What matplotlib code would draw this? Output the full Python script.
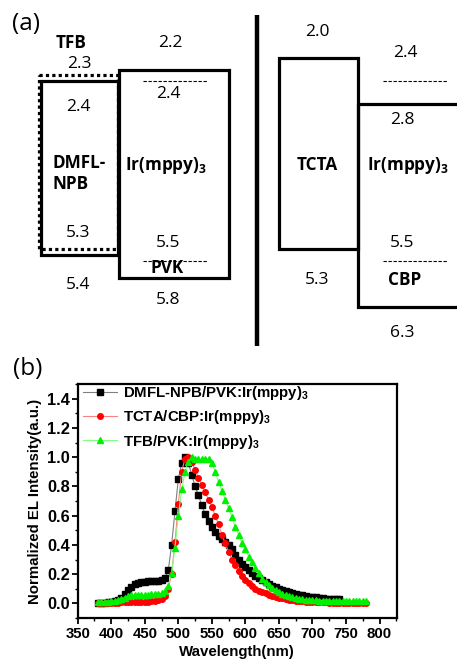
import numpy as np
import matplotlib
matplotlib.use("Agg")
import matplotlib.pyplot as plt
from matplotlib.patches import Rectangle
from matplotlib.ticker import MultipleLocator

plt.rcParams['mathtext.default'] = 'regular'

# ---------------- energy levels (eV) ----------------
# left device: TFB / DMFL-NPB / PVK:Ir(mppy)3
TFB_LEVELS = (2.3, 5.3)
DMFL_LEVELS = (2.4, 5.4)
PVK_LEVELS = (2.2, 5.8)
IR_LEVELS = (2.4, 5.5)
# right device: TCTA / CBP:Ir(mppy)3
TCTA_LEVELS = (2.0, 5.3)
CBP_LEVELS = (2.8, 6.3)

# ---------------- EL spectra ----------------
wl_dmfl = np.arange(380, 741, 5)
el_dmfl = [0.000, 0.002, 0.004, 0.007, 0.010, 0.015, 0.025, 0.040, 0.062, 0.090,
           0.115, 0.132, 0.142, 0.147, 0.149, 0.150, 0.150, 0.151, 0.153, 0.158,
           0.175, 0.225, 0.400, 0.630, 0.850, 0.960, 1.000, 0.960, 0.880, 0.800,
           0.740, 0.670, 0.610, 0.560, 0.520, 0.490, 0.460, 0.440, 0.420, 0.400,
           0.370, 0.330, 0.300, 0.270, 0.250, 0.230, 0.210, 0.190, 0.175, 0.160,
           0.145, 0.132, 0.120, 0.110, 0.100, 0.091, 0.084, 0.077, 0.070, 0.065,
           0.060, 0.055, 0.050, 0.047, 0.044, 0.041, 0.038, 0.035, 0.033, 0.031,
           0.030, 0.029, 0.028]

wl_full = np.arange(380, 781, 5)
el_tcta = [0.000, 0.000, 0.001, 0.002, 0.003, 0.004, 0.005, 0.006, 0.007, 0.008,
           0.009, 0.010, 0.010, 0.011, 0.011, 0.012, 0.014, 0.018, 0.024, 0.033,
           0.050, 0.100, 0.200, 0.420, 0.680, 0.900, 0.990, 1.000, 0.970, 0.910,
           0.860, 0.810, 0.760, 0.710, 0.660, 0.600, 0.540, 0.470, 0.410, 0.350,
           0.300, 0.260, 0.220, 0.190, 0.160, 0.140, 0.120, 0.100, 0.088, 0.078,
           0.068, 0.060, 0.052, 0.045, 0.040, 0.034, 0.030, 0.025, 0.021, 0.018,
           0.015, 0.013, 0.011, 0.010, 0.009, 0.008, 0.007, 0.006, 0.006, 0.005,
           0.005, 0.004, 0.004, 0.004, 0.003, 0.003, 0.003, 0.003, 0.002, 0.002,
           0.002]
el_tfb = [0.010, 0.010, 0.011, 0.012, 0.014, 0.017, 0.022, 0.030, 0.040, 0.049,
          0.055, 0.058, 0.060, 0.060, 0.060, 0.060, 0.061, 0.062, 0.065, 0.070,
          0.085, 0.120, 0.210, 0.380, 0.600, 0.780, 0.900, 0.970, 1.000, 0.990,
          0.985, 0.985, 0.990, 0.990, 0.960, 0.900, 0.830, 0.770, 0.710, 0.650,
          0.590, 0.520, 0.470, 0.410, 0.370, 0.320, 0.280, 0.240, 0.205, 0.170,
          0.145, 0.125, 0.105, 0.090, 0.077, 0.066, 0.056, 0.048, 0.042, 0.037,
          0.033, 0.029, 0.026, 0.024, 0.022, 0.020, 0.019, 0.018, 0.017, 0.017,
          0.016, 0.016, 0.016, 0.016, 0.016, 0.016, 0.016, 0.016, 0.016, 0.016,
          0.016]

labels = ['DMFL-NPB/PVK:Ir(mppy)$_3$', 'TCTA/CBP:Ir(mppy)$_3$', 'TFB/PVK:Ir(mppy)$_3$']
y_ticks = [0.0, 0.2, 0.4, 0.6, 0.8, 1.0, 1.2, 1.4]
x_ticks = [350, 400, 450, 500, 550, 600, 650, 700, 750, 800]

W, H = 457, 664
fig = plt.figure(figsize=(W / 100, H / 100), dpi=100)

# ================= (a) energy-level diagram =================
TOP_H = 350
ax = fig.add_axes([0, 1 - TOP_H / H, 1, TOP_H / H])
e_of_px = lambda p: (p + 58) / 58.0
ax.set_xlim(0, W)
ax.set_ylim(e_of_px(TOP_H), e_of_px(0))
ax.axis('off')

num_font = dict(family='Open Sans', fontsize=12.5)
bold_font = dict(family='Open Sans', fontsize=12.3, fontweight='bold')
LW = 2.3


def box(x0, x1, lv, **kw):
    ax.add_patch(Rectangle((x0, lv[0]), x1 - x0, lv[1] - lv[0], fill=False,
                           lw=LW, ec='black', clip_on=False, **kw))


def hline(x0, x1, e, **kw):
    ax.plot([x0, x1], [e, e], color='black', clip_on=False, **kw)


def put(x, e, s, dy, ha='center', **kw):
    font = dict(num_font)
    font.update(kw)
    ax.annotate(s, (x, e), xytext=(0, -dy * 0.72), textcoords='offset points',
                ha=ha, va='center', **font)


# left device
box(41, 118, DMFL_LEVELS)
box(119, 229, PVK_LEVELS)
ax.add_patch(Rectangle((39, TFB_LEVELS[0]), 79, TFB_LEVELS[1] - TFB_LEVELS[0],
                       fill=False, lw=LW, ec='black', ls=(0, (1, 1)), clip_on=False))
for e in IR_LEVELS:
    hline(143, 208, e, lw=0.8, ls=(0, (3, 1.5)))

put(71, TFB_LEVELS[0], 'TFB', -32, **bold_font)
put(79, TFB_LEVELS[0], '2.3', -11)
put(170, PVK_LEVELS[0], '2.2', -27)
put(78, DMFL_LEVELS[0], '2.4', 26)
put(168, IR_LEVELS[0], '2.4', 13)
ax.annotate('DMFL-\nNPB', (52, np.mean(DMFL_LEVELS)), xytext=(0, -5 * 0.72),
            textcoords='offset points', ha='left', va='center',
            multialignment='left', linespacing=1.2, **bold_font)
put(166, np.mean(PVK_LEVELS), 'Ir(mppy)$_3$', -8, **bold_font)
put(78, TFB_LEVELS[1], '5.3', -16)
put(168, IR_LEVELS[1], '5.5', -18)
put(167, PVK_LEVELS[1], 'PVK', -10, **bold_font)
put(78, DMFL_LEVELS[1], '5.4', 30)
put(168, PVK_LEVELS[1], '5.8', 22)

# divider
ax.plot([257, 257], [e_of_px(15), e_of_px(346)], color='black', lw=3.2,
        solid_capstyle='butt', clip_on=False)

# right device
box(279, 358, TCTA_LEVELS)
box(358, 475, CBP_LEVELS)
for e in IR_LEVELS:
    hline(383, 447, e, lw=0.8, ls=(0, (3, 1.5)))

put(317, TCTA_LEVELS[0], '2.0', -26)
put(405, IR_LEVELS[0], '2.4', -28)
put(402, CBP_LEVELS[0], '2.8', 16)
put(317, np.mean(TCTA_LEVELS), 'TCTA', 11, **bold_font)
put(408, np.mean(CBP_LEVELS), 'Ir(mppy)$_3$', -40, **bold_font)
put(402, IR_LEVELS[1], '5.5', -18)
put(405, IR_LEVELS[1], 'CBP', 19, **bold_font)
put(317, TCTA_LEVELS[1], '5.3', 31)
put(402, CBP_LEVELS[1], '6.3', 26)

fig.text(12 / W, 1 - 24 / H, '(a)', family='Open Sans', fontsize=17.5,
         ha='left', va='center')
fig.text(13 / W, 1 - 369 / H, '(b)', family='Open Sans', fontsize=17.5,
         ha='left', va='center')

# ================= (b) EL spectra =================
L, R, T, B = 77.7, 397, 384, 618
axb = fig.add_axes([L / W, 1 - B / H, (R - L) / W, (B - T) / H])

axb.plot(wl_dmfl, el_dmfl, color='#808080', lw=0.8, marker='s', ms=3.7,
         mfc='black', mec='black', label=labels[0])
axb.plot(wl_full, el_tcta, color='#ff8080', lw=0.8, marker='o', ms=4.0,
         mfc='red', mec='red', label=labels[1])
axb.plot(wl_full, el_tfb, color='#80ff80', lw=0.8, marker='^', ms=4.6,
         mfc='#00f000', mec='#00f000', label=labels[2])

axb.set_xlim(350, 826)
axb.set_ylim(-0.1, 1.5)
axb.xaxis.set_minor_locator(MultipleLocator(25))
axb.yaxis.set_minor_locator(MultipleLocator(0.1))
tick_font = dict(family='Liberation Sans', fontweight='bold')
axb.set_xticks(x_ticks)
axb.set_xticklabels([str(v) for v in x_ticks], fontsize=10.8, **tick_font)
axb.set_yticks(y_ticks)
axb.set_yticklabels([f'{v:.1f}' for v in y_ticks], fontsize=11.8, **tick_font)

for s in axb.spines.values():
    s.set_linewidth(1.6)
axb.tick_params(which='major', direction='out', length=4, width=1.3,
                top=False, right=False)
axb.tick_params(which='minor', direction='out', length=2.5, width=1.0,
                top=False, right=False)
axb.tick_params(axis='x', which='major', pad=2.5)
axb.tick_params(axis='y', which='major', pad=1.5)

axb.set_xlabel('Wavelength(nm)', fontsize=10.8, labelpad=3, **tick_font)
axb.set_ylabel('Normalized EL Intensity(a.u.)', fontsize=10.8, labelpad=4, **tick_font)

leg = axb.legend(loc='upper left', bbox_to_anchor=(0.0, 1.022), frameon=False,
                 prop=dict(family='Liberation Sans', weight='bold', size=10.8),
                 handlelength=2.3, handletextpad=0.35, labelspacing=0.42,
                 borderaxespad=0.1, borderpad=0.25, numpoints=1)

fig.savefig('out.png', dpi=100)
